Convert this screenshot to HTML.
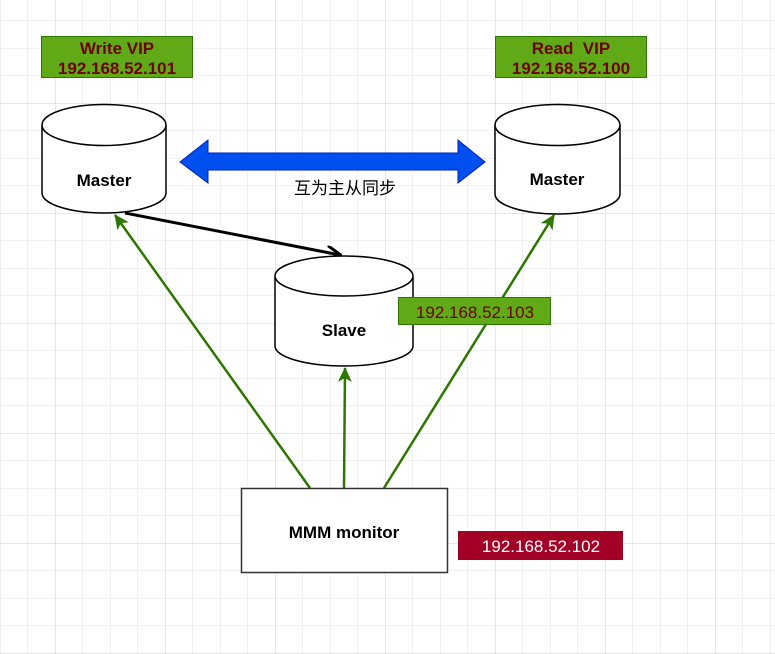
<!DOCTYPE html>
<html><head><meta charset="utf-8"><style>
html,body{margin:0;padding:0;background:#fff;}
svg{display:block;}
text{font-family:"Liberation Sans",Arial,sans-serif;font-weight:bold;}
</style></head><body>
<svg width="775" height="654" viewBox="0 0 775 654" xmlns="http://www.w3.org/2000/svg">
<defs>
<pattern id="minor" x="0" y="20.5" width="27.5" height="27.5" patternUnits="userSpaceOnUse">
<path d="M0 0H27.5M0 0V27.5" stroke="#e2e2e2" stroke-width="1" fill="none"/>
</pattern>
<pattern id="major" x="55" y="103" width="110" height="110" patternUnits="userSpaceOnUse">
<path d="M0 0H110M0 0V110" stroke="#cfcfcf" stroke-width="1" fill="none"/>
</pattern>
<marker id="ga" markerWidth="16" markerHeight="14" refX="14" refY="7" orient="auto" markerUnits="userSpaceOnUse">
<path d="M0 0L15 7L0 14L4 7Z" fill="#2d7600"/>
</marker>
<marker id="ba" markerWidth="16" markerHeight="14" refX="14" refY="7" orient="auto" markerUnits="userSpaceOnUse">
<path d="M0 0L15 7L0 14" fill="none" stroke="#000" stroke-width="3"/>
</marker>
</defs>
<rect width="775" height="654" fill="#fff"/>
<rect width="775" height="654" fill="url(#minor)"/>
<rect width="775" height="654" fill="url(#major)"/>

<rect x="41.5" y="36.5" width="151" height="41" fill="#60a917" stroke="#2d7600"/>
<text x="117" y="54" font-size="17" fill="#6f0000" text-anchor="middle">Write VIP</text>
<text x="117" y="74" font-size="17" fill="#6f0000" text-anchor="middle">192.168.52.101</text>
<rect x="495.5" y="36.5" width="151" height="41" fill="#60a917" stroke="#2d7600"/>
<text x="571" y="54" font-size="17" fill="#6f0000" text-anchor="middle">Read&#160; VIP</text>
<text x="571" y="74" font-size="17" fill="#6f0000" text-anchor="middle">192.168.52.100</text>

<path d="M42 125 V193 A62 20 0 0 0 166 193 V125" fill="#fff" stroke="#000" stroke-width="1.5"/>
<ellipse cx="104" cy="125" rx="62" ry="20.5" fill="#fff" stroke="#000" stroke-width="1.5"/>
<text x="104" y="186" font-size="17" fill="#000" text-anchor="middle">Master</text>

<path d="M495 125 V194 A62.5 20 0 0 0 620 194 V125" fill="#fff" stroke="#000" stroke-width="1.5"/>
<ellipse cx="557.5" cy="125" rx="62.5" ry="20.5" fill="#fff" stroke="#000" stroke-width="1.5"/>
<text x="557" y="185" font-size="17" fill="#000" text-anchor="middle">Master</text>

<path d="M180 162 L208 140 V153 H458 V140 L485 162 L458 183 V170 H208 V183 Z" fill="#0050ef" stroke="#001dbc" stroke-width="1"/>
<text x="345" y="194" font-size="17" style="font-family:'Noto Sans CJK SC',sans-serif;font-weight:normal" fill="#000" text-anchor="middle">互为主从同步</text>

<line x1="125" y1="213" x2="340" y2="255" stroke="#000" stroke-width="3" marker-end="url(#ba)"/>

<path d="M275 276 V346 A69 20 0 0 0 413 346 V276" fill="#fff" stroke="#000" stroke-width="1.5"/>
<ellipse cx="344" cy="276" rx="69" ry="20" fill="#fff" stroke="#000" stroke-width="1.5"/>
<text x="344" y="336" font-size="17" fill="#000" text-anchor="middle">Slave</text>

<line x1="310" y1="488" x2="115" y2="215" stroke="#2d7600" stroke-width="2.5" marker-end="url(#ga)"/>
<line x1="344" y1="488" x2="345" y2="368" stroke="#2d7600" stroke-width="2.5" marker-end="url(#ga)"/>
<line x1="384" y1="488" x2="554" y2="215" stroke="#2d7600" stroke-width="2.5" marker-end="url(#ga)"/>

<rect x="398.5" y="297.5" width="152" height="27" fill="#60a917" stroke="#2d7600"/>
<text x="475" y="318" font-size="17" style="font-weight:normal" fill="#6f0000" text-anchor="middle">192.168.52.103</text>

<rect x="241.5" y="488.5" width="206" height="84" fill="#fff" stroke="#333" stroke-width="1.5"/>
<text x="344" y="538" font-size="17" fill="#000" text-anchor="middle">MMM monitor</text>

<rect x="458" y="531" width="165" height="29" fill="#a20025"/>
<text x="541" y="552" font-size="17" style="font-weight:normal" fill="#fff" text-anchor="middle">192.168.52.102</text>
</svg>
</body></html>
